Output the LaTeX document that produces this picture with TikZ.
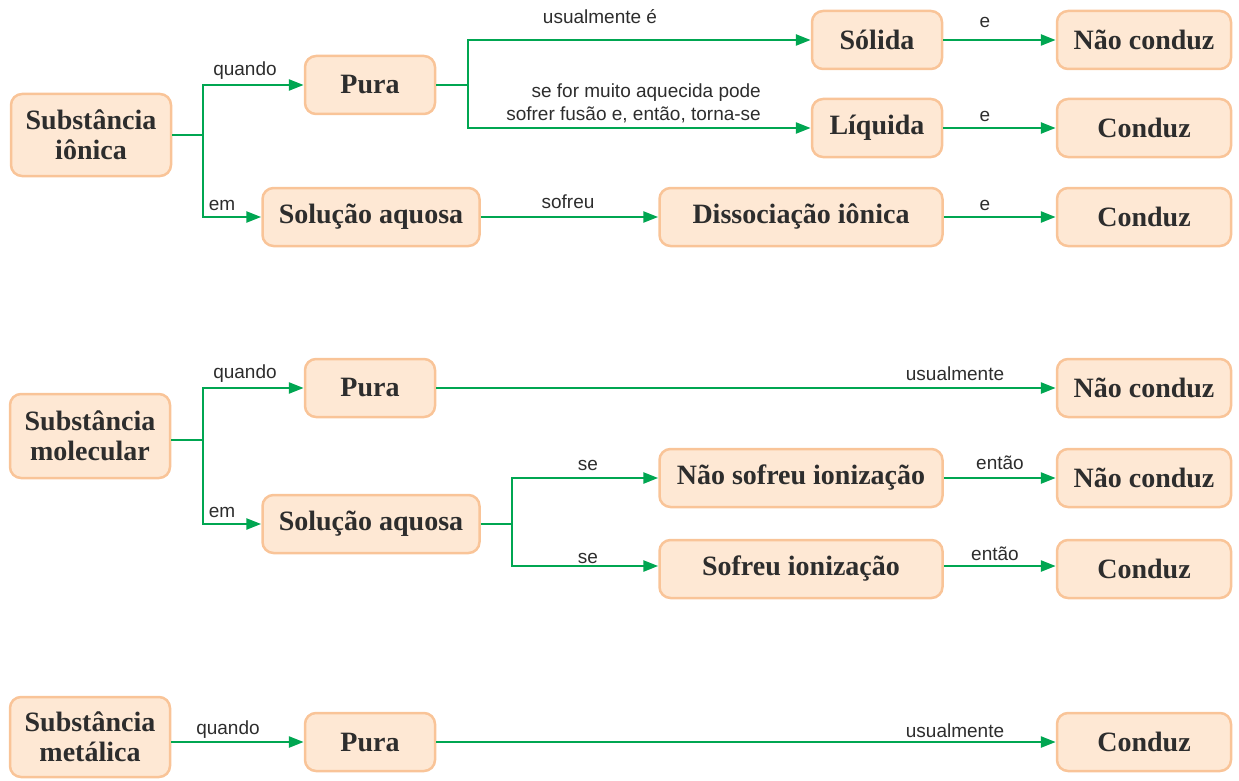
\documentclass[tikz,border=0pt]{standalone}
\usepackage{fontspec}
\setmainfont{Liberation Serif}
\newfontfamily\lblfont{Liberation Sans}
\usetikzlibrary{arrows.meta}
\definecolor{boxfill}{RGB}{254,232,212}
\definecolor{boxdraw}{RGB}{249,196,152}
\definecolor{arrgreen}{RGB}{0,166,81}
\definecolor{txt}{RGB}{45,45,45}
\tikzset{
  cbox/.style={draw=boxdraw, line width=2.5pt, fill=boxfill, rounded corners=11pt,
    text=txt, font=\fontsize{28}{30}\selectfont\bfseries, align=center,
    inner sep=0pt, minimum height=58pt},
  conn/.style={draw=arrgreen, line width=2.6pt, -{Triangle[length=15pt,width=11pt]}},
  link/.style={draw=arrgreen, line width=2.6pt},
  lbl/.style={text=txt, font=\lblfont\fontsize{19}{23}\selectfont, inner sep=0pt}
}
\begin{document}
\begin{tikzpicture}[x=1pt,y=-1pt]
\useasboundingbox (0,0) rectangle (1239,781);
% ---------- row 1 ----------
\node[cbox, minimum width=160pt, minimum height=82pt] (si) at (91,135) {Substância\\iônica};
\node[cbox, minimum width=130pt] (p1) at (370,85) {Pura};
\node[cbox, minimum width=130pt] (sol) at (877,40) {Sólida};
\node[cbox, minimum width=174pt] (nc1) at (1144,40) {Não conduz};
\node[cbox, minimum width=130pt] (liq) at (877,128) {Líquida};
\node[cbox, minimum width=174pt] (c1) at (1144,128) {Conduz};
\node[cbox, minimum width=217pt] (sa1) at (371,217) {Solução aquosa};
\node[cbox, minimum width=283pt] (dis) at (801,217) {Dissociação iônica};
\node[cbox, minimum width=174pt] (c2) at (1144,217) {Conduz};
\coordinate (b1) at (203,135);
\coordinate (b2) at (468,85);
\draw[link] (si.east) -- (b1);
\draw[conn] (b1) |- (p1.west);
\draw[conn] (b1) |- (sa1.west);
\draw[link] (p1.east) -- (b2);
\draw[conn] (b2) |- (sol.west);
\draw[conn] (b2) |- (liq.west);
\draw[conn] (sol) -- (nc1);
\draw[conn] (liq) -- (c1);
\draw[conn] (sa1) -- (dis);
\draw[conn] (dis) -- (c2);
\node[lbl] (l1) at (245,71) {quando};
\node[lbl] (l2) at (222,205) {em};
\node[lbl] (l3) at (600,17) {usualmente é};
\node[lbl, anchor=east, align=right, font=\lblfont\fontsize{19}{23}\selectfont] (l4) at (761,103) {se for muito aquecida pode\\sofrer fusão e, então, torna-se};
\node[lbl] (l5) at (985,22) {e};
\node[lbl] (l6) at (985,116) {e};
\node[lbl] (l7) at (568,202) {sofreu};
\node[lbl] (l8) at (985,205) {e};
% ---------- row 2 ----------
\node[cbox, minimum width=160pt, minimum height=84pt] (sm) at (90,436) {Substância\\molecular};
\node[cbox, minimum width=130pt] (p2) at (370,388) {Pura};
\node[cbox, minimum width=174pt] (nc2) at (1144,388) {Não conduz};
\node[cbox, minimum width=217pt] (sa2) at (371,524) {Solução aquosa};
\node[cbox, minimum width=283pt] (nsi) at (801,478) {Não sofreu ionização};
\node[cbox, minimum width=174pt] (nc3) at (1144,478) {Não conduz};
\node[cbox, minimum width=283pt] (si2) at (801,569) {Sofreu ionização};
\node[cbox, minimum width=174pt] (c3) at (1144,569) {Conduz};
\coordinate (b3) at (203,440);
\coordinate (b4) at (512,524);
\draw[link] (sm.east |- b3) -- (b3);
\draw[conn] (b3) |- (p2.west);
\draw[conn] (b3) |- (sa2.west);
\draw[conn] (p2) -- (nc2);
\draw[link] (sa2.east) -- (b4);
\draw[conn] (b4) |- (nsi.west);
\draw[conn] (b4) |- ([yshift=3pt]si2.west);
\draw[conn] (nsi) -- (nc3);
\draw[conn] ([yshift=3pt]si2.east) -- ([yshift=3pt]c3.west);
\node[lbl] (l9) at (245,374) {quando};
\node[lbl] (l10) at (222,512) {em};
\node[lbl] (l11) at (955,374) {usualmente};
\node[lbl] (l12) at (588,465) {se};
\node[lbl] (l13) at (588,558) {se};
\node[lbl] (l14) at (1000,463) {então};
\node[lbl] (l15) at (995,554) {então};
% ---------- row 3 ----------
\node[cbox, minimum width=160pt, minimum height=80pt] (smet) at (90,737) {Substância\\metálica};
\node[cbox, minimum width=130pt] (p3) at (370,742) {Pura};
\node[cbox, minimum width=174pt] (c4) at (1144,742) {Conduz};
\draw[conn] (smet.east |- p3.west) -- (p3.west);
\draw[conn] (p3) -- (c4);
\node[lbl] (l16) at (228,730) {quando};
\node[lbl] (l17) at (955,731) {usualmente};
\end{tikzpicture}
\end{document}
